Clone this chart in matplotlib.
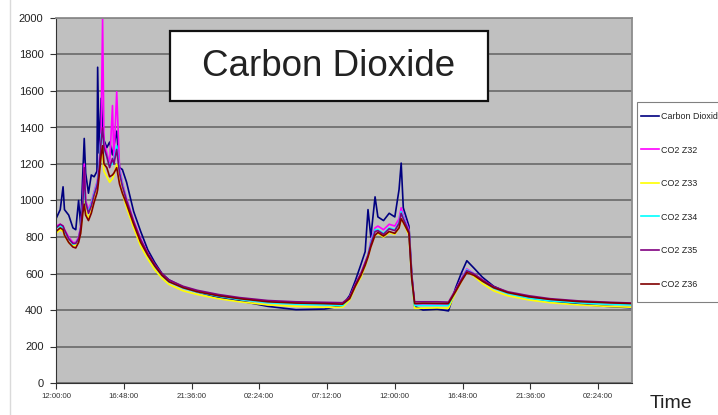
import matplotlib
matplotlib.use('Agg')
import matplotlib.pyplot as plt
from matplotlib.patches import Rectangle
from matplotlib.lines import Line2D

# hours since 12:00:00 on day one
hours = [0.0, 0.3, 0.5, 0.6, 0.9, 1.2, 1.4, 1.6, 1.75, 1.9,
         2.0, 2.1, 2.3, 2.5, 2.7, 2.9, 2.95, 3.05, 3.2, 3.3,
         3.4, 3.6, 3.8, 4.0, 4.1, 4.3, 4.5, 4.7, 5.0, 5.5,
         6.0, 6.5, 7.0, 7.5, 8.0, 9.0, 10.0, 11.5, 13.0, 15.0,
         17.0, 19.0, 20.3, 20.8, 21.2, 21.6, 21.9, 22.1, 22.3, 22.6,
         22.8, 23.2, 23.6, 24.0, 24.3, 24.45, 24.6, 25.0, 25.2, 25.4,
         26.0, 27.0, 27.8, 28.3, 28.7, 29.1, 29.6, 30.2, 31.0, 32.0,
         33.5, 35.0, 37.0, 39.0, 40.8]

co2_main = [900, 950, 1075, 950, 920, 850, 840, 1000, 860, 1150,
            1340, 1150, 1040, 1140, 1130, 1160, 1730, 1260, 1560, 1400,
            1330, 1290, 1320, 1250, 1300, 1380, 1180, 1170, 1100, 940,
            830, 730, 660, 600, 565, 525, 500, 468, 450, 420,
            402, 405, 425, 480, 560, 650, 720, 950, 800, 1020,
            910, 890, 930, 910, 1060, 1205, 960, 860, 600, 420,
            400, 405, 395, 520, 600, 670, 630, 580, 530, 495,
            468, 450, 432, 420, 412]

z32 = [860, 870, 860, 840, 800, 770, 770, 800, 860, 1000,
       1200, 1000, 950, 990, 1050, 1100, 1120, 1200, 1380, 2000,
       1320, 1260, 1200, 1520, 1220, 1596, 1180, 1100, 1010, 890,
       790, 710, 645, 595, 560, 525, 502, 478, 460, 445,
       438, 430, 430, 470, 540, 600, 660, 700, 780, 850,
       860, 840, 870, 860, 900, 960, 920, 840, 580, 430,
       432, 430, 430, 510, 570, 625, 600, 565, 525, 495,
       470, 455, 445, 438, 432]

z33 = [820, 840, 830, 810, 770, 750, 755, 780, 830, 940,
       1000, 940, 900, 940, 1000, 1050, 1070, 1140, 1260, 1250,
       1160, 1130, 1100, 1120, 1140, 1200, 1100, 1040, 960, 850,
       750, 680, 620, 575, 540, 505, 485, 462, 445, 428,
       420, 415, 415, 455, 525, 580, 640, 690, 750, 810,
       820, 800, 825, 815, 850, 900, 880, 810, 560, 410,
       410, 412, 410, 495, 555, 610, 585, 545, 505, 478,
       455, 440, 428, 420, 415]

z34 = [850, 860, 850, 830, 790, 760, 765, 790, 850, 980,
       1100, 980, 940, 980, 1040, 1090, 1110, 1180, 1360, 1380,
       1280, 1240, 1190, 1200, 1220, 1300, 1160, 1090, 1000, 880,
       780, 700, 640, 590, 555, 520, 498, 475, 458, 440,
       432, 428, 425, 465, 535, 595, 650, 700, 770, 840,
       840, 820, 850, 840, 880, 940, 910, 830, 570, 425,
       425, 425, 425, 505, 565, 620, 598, 560, 520, 490,
       465, 450, 440, 432, 428]

z35 = [850, 870, 860, 840, 790, 765, 765, 790, 850, 980,
       1180, 990, 930, 970, 1030, 1080, 1100, 1170, 1330, 1400,
       1290, 1240, 1180, 1230, 1200, 1280, 1150, 1080, 1000, 885,
       785, 710, 650, 600, 565, 530, 508, 485, 468, 452,
       445, 442, 440, 470, 540, 600, 660, 700, 760, 830,
       835, 815, 845, 835, 875, 930, 900, 830, 580, 445,
       445, 445, 443, 510, 565, 615, 598, 565, 528, 500,
       478, 462, 450, 443, 438]

z36 = [830, 850, 840, 810, 770, 745, 740, 770, 820, 930,
       980, 920, 890, 930, 990, 1040, 1060, 1130, 1250, 1300,
       1200, 1180, 1130, 1140, 1150, 1180, 1090, 1040, 980, 870,
       770, 700, 640, 590, 555, 522, 500, 478, 462, 445,
       438, 435, 432, 462, 530, 590, 645, 690, 745, 810,
       825, 805, 830, 820, 850, 900, 880, 820, 570, 435,
       437, 436, 435, 500, 555, 605, 590, 558, 522, 495,
       472, 458, 446, 440, 435]

series_names = ['Carbon Dioxide', 'CO2 Z32', 'CO2 Z33', 'CO2 Z34', 'CO2 Z35', 'CO2 Z36']
series_colors = ['#000080', '#FF00FF', '#FFFF00', '#00FFFF', '#800080', '#800000']

tick_hours = [0, 4.8, 9.6, 14.4, 19.2, 24.0, 28.8, 33.6, 38.4]
tick_labels = ['12:00:00', '16:48:00', '21:36:00', '02:24:00', '07:12:00',
               '12:00:00', '16:48:00', '21:36:00', '02:24:00']
y_ticks = [0, 200, 400, 600, 800, 1000, 1200, 1400, 1600, 1800, 2000]

plt.rcParams['font.family'] = ['Liberation Sans', 'DejaVu Sans']

fig = plt.figure(figsize=(7.18, 4.15), dpi=100)
ax = fig.add_axes([56 / 718, 1 - 383 / 415, 576 / 718, 365 / 415])
ax.set_facecolor('#C0C0C0')

for vals, name, col in zip([co2_main, z32, z33, z34, z35, z36], series_names, series_colors):
    ax.plot(hours, vals, color=col, lw=1.2, label=name)

ax.set_xlim(0, 40.8)
ax.set_ylim(0, 2000)
ax.set_yticks(y_ticks)
ax.set_xticks(tick_hours)
ax.set_xticklabels(tick_labels, fontsize=5.6, color='#333333',
                   family=['Liberation Sans Narrow', 'Liberation Sans'])
ax.tick_params(axis='y', labelsize=8, length=4, pad=5, color='#333333', labelcolor='#222222')
ax.tick_params(axis='x', length=4, pad=3, color='#333333')
ax.yaxis.grid(True, color='#707070', lw=1.3)
ax.set_axisbelow(True)
for side in ['top', 'right']:
    ax.spines[side].set_color('#8c8c8c')
    ax.spines[side].set_linewidth(1.3)
for side in ['left', 'bottom']:
    ax.spines[side].set_color('#333333')

# title box inside the plot
fig.patches.append(Rectangle((170 / 718, 1 - 101 / 415), 318 / 718, 70 / 415,
                             transform=fig.transFigure, facecolor='white',
                             edgecolor='#111111', lw=1.6, zorder=5))
fig.text(329 / 718, 1 - 66 / 415, 'Carbon Dioxide', fontsize=26.5, color='#222222',
         ha='center', va='center', zorder=6)

# legend frame (runs past the right edge, as in the source picture)
fig.patches.append(Rectangle((637 / 718, 1 - 302 / 415), 100 / 718, 200 / 415,
                             transform=fig.transFigure, facecolor='white',
                             edgecolor='#808080', lw=0.8, zorder=-1))
leg = ax.legend(loc='upper left', bbox_to_anchor=(641 / 718, 1 - 112 / 415),
                bbox_transform=fig.transFigure, fontsize=6.4, frameon=False,
                labelspacing=2.76, handlelength=2.0, handletextpad=0.2,
                borderpad=0, borderaxespad=0)
for t in leg.get_texts():
    t.set_color('#222222')

fig.text(650 / 718, 1 - 408 / 415, 'Time', fontsize=14, color='#222222', va='baseline')

# chart area edge at the left
fig.add_artist(Line2D([10 / 718, 10 / 718], [0, 1], color='#dadada', lw=1))

fig.savefig('out.png', dpi=100)
